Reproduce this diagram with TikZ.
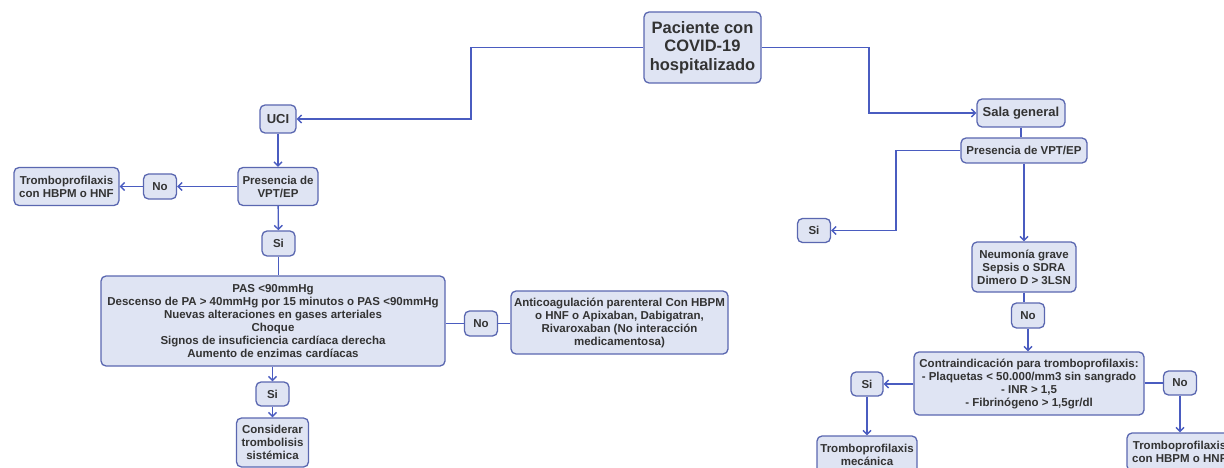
\documentclass[tikz,border=0pt]{standalone}
\usepackage{fontspec}
\setmainfont{Liberation Sans}
\usetikzlibrary{arrows.meta}
\definecolor{boxfill}{HTML}{DFE4F3}
\definecolor{boxdraw}{HTML}{5A67B0}
\definecolor{linec}{HTML}{4A5CC0}
\definecolor{txt}{HTML}{333333}
\begin{document}
\begin{tikzpicture}[x=1pt,y=-1pt,
  box/.style={draw=boxdraw, fill=boxfill, line width=1.3pt, rounded corners=5pt,
    text=txt, font=\bfseries\fontsize{11.5}{13}\selectfont, align=center, inner sep=1pt},
  bigtxt/.style={font=\bfseries\fontsize{16.5}{18.3}\selectfont},
  midtxt/.style={font=\bfseries\fontsize{13}{15}\selectfont},
  conn/.style={draw=linec, line width=1.4pt},
  arr/.style={conn, -{Straight Barb[length=4pt,width=8pt,line width=1.4pt]}}]
\useasboundingbox (0,0) rectangle (1224,468);
\clip (0,0) rectangle (1224,468);

% nodes
\node[box, bigtxt, minimum width=117pt, minimum height=71pt] (pac) at (702.5,47.5) {Paciente con\\COVID-19\\hospitalizado};
\node[box, midtxt, minimum width=36pt, minimum height=28pt] (uci) at (278,119) {UCI};
\node[box, minimum width=80pt, minimum height=38pt] (presL) at (278,186.5) {Presencia de\\VPT/EP};
\node[box, minimum width=33pt, minimum height=25pt] (noL) at (160,186.5) {No};
\node[box, minimum width=105pt, minimum height=38pt] (tromL) at (66.5,186.5) {Tromboprofilaxis\\con HBPM o HNF};
\node[box, minimum width=33pt, minimum height=25pt] (siL) at (278.5,243.5) {Si};
\node[box, minimum width=344pt, minimum height=90pt] (pas) at (273,321) {PAS <90mmHg\\Descenso de PA > 40mmHg por 15 minutos o PAS <90mmHg\\Nuevas alteraciones en gases arteriales\\Choque\\Signos de insuficiencia cardíaca derecha\\Aumento de enzimas cardíacas};
\node[box, minimum width=33pt, minimum height=24pt] (si2) at (272.5,394) {Si};
\node[box, minimum width=72pt, minimum height=49pt] (cons) at (272.5,442.5) {Considerar\\trombolisis\\sistémica};
\node[box, minimum width=33pt, minimum height=25pt] (noM) at (481,323.5) {No};
\node[box, minimum width=217pt, minimum height=63pt] (anti) at (619.5,322.5) {Anticoagulación parenteral Con HBPM\\o HNF o Apixaban, Dabigatran,\\Rivaroxaban (No interacción\\medicamentosa)};

\node[box, midtxt, minimum width=88pt, minimum height=28pt] (sala) at (1021,113) {Sala general};
\node[box, minimum width=126pt, minimum height=25pt] (presR) at (1024,150.5) {Presencia de VPT/EP};
\node[box, minimum width=33pt, minimum height=24pt] (siR) at (814,230.5) {Si};
\node[box, minimum width=104pt, minimum height=50pt] (neu) at (1024,267) {Neumonía grave\\Sepsis o SDRA\\Dimero D > 3LSN};
\node[box, minimum width=33pt, minimum height=25pt] (noR) at (1028,315.5) {No};
\node[box, minimum width=230pt, minimum height=63pt] (contra) at (1029,383.5) {Contraindicación para tromboprofilaxis:\\- Plaquetas < 50.000/mm3 sin sangrado\\- INR > 1,5\\- Fibrinógeno > 1,5gr/dl};
\node[box, minimum width=32pt, minimum height=24pt] (siR2) at (867,384) {Si};
\node[box, minimum width=100pt, minimum height=38pt] (tromM) at (867,455) {Tromboprofilaxis\\mecánica};
\node[box, minimum width=33pt, minimum height=24pt] (noR2) at (1180,383) {No};
\node[box, minimum width=105pt, minimum height=38pt] (tromR) at (1179.5,452) {Tromboprofilaxis\\con HBPM o HNF};

% connectors
\coordinate (k1) at (471,47.5);
\coordinate (k2) at (869,47.5);
\coordinate (k3) at (896,150.5);
\draw[arr] (pac.west) -- (k1) |- (uci);
\draw[arr] (pac.east) -- (k2) |- (sala);
\draw[arr] (uci) -- (presL);
\draw[arr] (presL) -- (noL);
\draw[arr] (noL) -- (tromL);
\draw[arr] (presL) -- (siL);
\draw[conn] (siL.south) -- (siL.south |- pas.north);
\draw[arr] (si2 |- pas.south) -- (si2);
\draw[arr] (si2) -- (cons);
\draw[conn] (pas.east |- noM) -- (noM);
\draw[conn] (noM) -- (anti.west |- noM);
\draw[conn] (sala.south) -- (sala.south |- presR.north);
\draw[arr] (presR.west) -- (k3) |- (siR);
\draw[arr] (presR) -- (neu);
\draw[conn] (neu.south) -- (neu.south |- noR.north);
\draw[arr] (noR.south) -- (noR.south |- contra.north);
\draw[arr] (contra.west |- siR2) -- (siR2);
\draw[arr] (siR2) -- (siR2 |- tromM.north);
\draw[conn] (contra.east |- noR2) -- (noR2);
\draw[arr] (noR2) -- (noR2 |- tromR.north);
\end{tikzpicture}
\end{document}
